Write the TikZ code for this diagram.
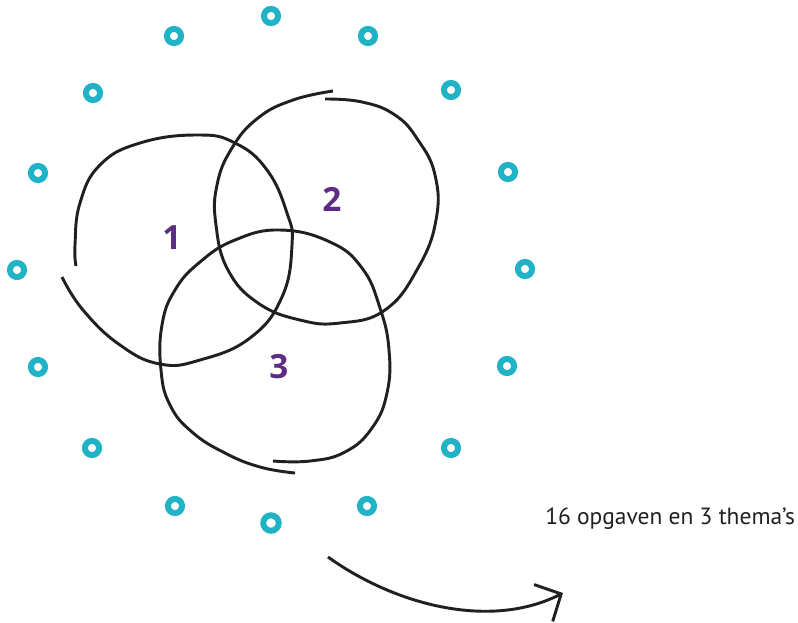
\documentclass[tikz,border=0pt]{standalone}
\usepackage{fontspec}
\setmainfont{PT Sans}
\newfontfamily\numfont{Open Sans}
\usepackage{xcolor}
\usepackage{tikz}
\usetikzlibrary{arrows.meta}
\definecolor{teal}{HTML}{20B2C5}
\definecolor{themepurple}{HTML}{5C2D82}
\definecolor{ink}{HTML}{231F20}

\begin{document}
\begin{tikzpicture}[
  x=0.75pt, y=-0.75pt,
  ring/.style={circle, draw=teal, line width=4.5pt, minimum size=10.6pt, inner sep=0pt},
  bigring/.style={ring, minimum size=11.6pt},
  theme/.style={draw=ink, line width=2.2pt, line cap=butt},
  num/.style={text=themepurple, font=\numfont\fontsize{25}{25}\selectfont\bfseries},
  arr/.style={draw=ink, line width=2.2pt, -{Straight Barb[length=15pt, width=31pt, line width=2.2pt]}}
]
  \useasboundingbox (0,0) rectangle (798,622);

  % opgaven
  \foreach \x/\y [count=\i] in {271/16, 174/36, 368/36, 93/93, 451/90, 38/173,
      508/172, 17/270, 525/269, 38/367, 507/366, 92/448, 451/448, 175/506, 367/506}
    \node[ring] (d\i) at (\x,\y) {};
  \node[bigring] (d16) at (271,523) {};

  % thema's
  \draw[theme] plot[smooth, tension=0.75] coordinates {(76,266) (75,245) (80,203)
    (100,165) (140,143) (197,135) (235,143) (267,170) (287,213) (292,245)
    (282,297) (250,338) (200,360) (160,364) (120,345) (83,310) (62,277)};
  \draw[theme] plot[smooth, tension=0.75] coordinates {(333,91) (293,100) (258,118)
    (232,148) (217,185) (216,225) (228,270) (258,303) (300,320) (340,323)
    (385,310) (418,268) (436,220) (435,175) (418,140) (395,115) (362,102) (325,99)};
  \draw[theme] plot[smooth, tension=0.75] coordinates {(273,461) (310,461) (345,452)
    (372,428) (387,393) (389,350) (380,308) (362,268) (330,242) (280,230) (235,240)
    (200,262) (175,290) (162,325) (161,370) (170,405) (192,432) (225,453) (260,467)
    (295,473)};

  \node[num] (n1) at (172,238) {1};
  \node[num] (n2) at (332,199) {2};
  \node[num] (n3) at (279,367) {3};

  \node[anchor=base west, inner sep=0pt, text=ink, font=\fontsize{17.6}{17.6}\selectfont] (label) at (545,524)
    {16 opgaven en 3 thema’s};

  \coordinate (arrstart) at (328,557);
  \coordinate (arrend) at (563,593);
  \draw[arr] (arrstart) .. controls (395,605) and (490,630) .. (arrend);
\end{tikzpicture}
\end{document}
